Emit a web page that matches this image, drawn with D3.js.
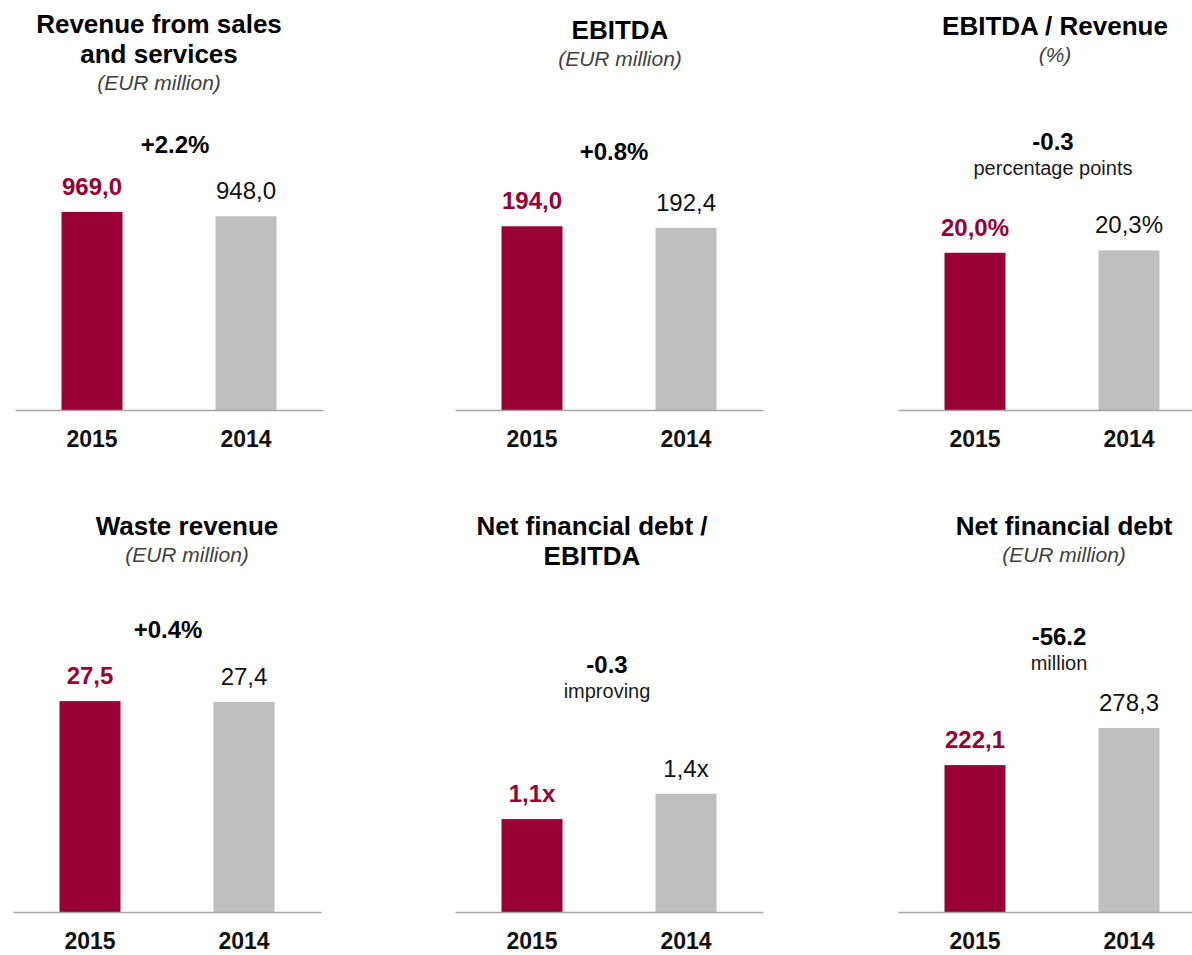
<!DOCTYPE html>
<html>
<head>
<meta charset="utf-8">
<script src="https://cdn.jsdelivr.net/npm/d3@7"></script>
<style>
  body { margin: 0; background: #fff; }
  text { font-family: "Liberation Sans", Arial, sans-serif; }
</style>
</head>
<body>
<svg width="1192" height="955"></svg>
<script>
// data
var years = ["2015", "2014"];
var titles = [["Revenue from sales", "and services"], ["EBITDA"], ["EBITDA / Revenue"],
              ["Waste revenue"], ["Net financial debt /", "EBITDA"], ["Net financial debt"]];
var units = ["(EUR million)", "(EUR million)", "(%)", "(EUR million)", "", "(EUR million)"];
var values2015 = [969.0, 194.0, 20.0, 27.5, 1.1, 222.1];
var values2014 = [948.0, 192.4, 20.3, 27.4, 1.4, 278.3];
var suffixes = ["", "", "%", "", "x", ""];
var changes = ["+2.2%", "+0.8%", "-0.3", "+0.4%", "-0.3", "-56.2"];
var changeNotes = ["", "", "percentage points", "", "improving", "million"];
var axisMax = [1223, 264, 31.8, 32.6, 2.96, 378];

// layout of the 6 small panels
var panelX = [15, 455, 898, 13, 455, 898],
    baseY = [410, 410, 410, 912, 912, 912],
    titleX = [159, 620, 1055, 187, 592, 1064],
    titleY = [33, 39, 35, 535, 535, 535],
    changeX = [175, 614, 1053, 168, 607, 1059],
    changeY = [153, 160, 150, 638, 673, 645];

var panelW = 308, plotH = 250;
var red = "#990033", grey = "#bfbfbf";

var svg = d3.select("svg");
var fmt = d3.formatLocale({decimal: ",", thousands: ".", grouping: [3], currency: ["", ""]}).format(".1f");

var xScale = d3.scaleBand().domain(years).range([0, panelW]).paddingInner(0.604).paddingOuter(0.302);

titles.forEach(function(t, i) {
    var g = svg.append("g");
    var yScale = d3.scaleLinear().domain([0, axisMax[i]]).range([baseY[i], baseY[i] - plotH]);
    var data = [
        {year: years[0], value: values2015[i], color: red},
        {year: years[1], value: values2014[i], color: grey}
    ];

    // title
    t.forEach(function(line, k) {
        g.append("text")
         .attr("x", titleX[i])
         .attr("y", titleY[i] + k * 30)
         .attr("text-anchor", "middle")
         .attr("font-size", "26px")
         .attr("font-weight", "bold")
         .attr("fill", "#000")
         .text(line);
    });
    if (units[i]) {
        g.append("text")
         .attr("x", titleX[i])
         .attr("y", titleY[i] + (t.length - 1) * 30 + 27)
         .attr("text-anchor", "middle")
         .attr("font-size", "21px")
         .attr("font-style", "italic")
         .attr("fill", "#404040")
         .text(units[i]);
    }

    // change vs previous year
    g.append("text")
     .attr("x", changeX[i])
     .attr("y", changeY[i])
     .attr("text-anchor", "middle")
     .attr("font-size", "24px")
     .attr("font-weight", "bold")
     .attr("fill", "#000")
     .text(changes[i]);
    if (changeNotes[i]) {
        g.append("text")
         .attr("x", changeX[i])
         .attr("y", changeY[i] + 25)
         .attr("text-anchor", "middle")
         .attr("font-size", "20px")
         .attr("fill", "#1a1a1a")
         .text(changeNotes[i]);
    }

    var pg = g.append("g").attr("transform", "translate(" + panelX[i] + ",0)");

    pg.selectAll(".bar")
      .data(data)
      .enter().append("rect")
      .attr("class", "bar")
      .attr("x", function(d) { return xScale(d.year); })
      .attr("y", function(d) { return yScale(d.value); })
      .attr("width", xScale.bandwidth())
      .attr("height", function(d) { return baseY[i] - yScale(d.value); })
      .attr("fill", function(d) { return d.color; });

    pg.selectAll(".val")
      .data(data)
      .enter().append("text")
      .attr("class", "val")
      .attr("x", function(d) { return xScale(d.year) + xScale.bandwidth() / 2; })
      .attr("y", function(d) { return yScale(d.value) - 17; })
      .attr("text-anchor", "middle")
      .attr("font-size", "24px")
      .attr("font-weight", function(d, k) { return k == 0 ? "bold" : "normal"; })
      .attr("fill", function(d, k) { return k == 0 ? red : "#111"; })
      .text(function(d) { return fmt(d.value) + suffixes[i]; });

    // x axis: just the baseline and bold years
    pg.append("g")
      .attr("transform", "translate(0," + baseY[i] + ")")
      .call(d3.axisBottom(xScale).tickSize(0).tickPadding(21))
      .call(function(a) {
          a.select(".domain").attr("stroke", "#a6a6a6").attr("stroke-width", 1.5);
          a.selectAll("text")
           .attr("font-family", "Lato, 'Open Sans', sans-serif")
           .attr("font-size", "23px")
           .attr("font-weight", "bold")
           .attr("fill", "#111");
      });
});
</script>
</body>
</html>
